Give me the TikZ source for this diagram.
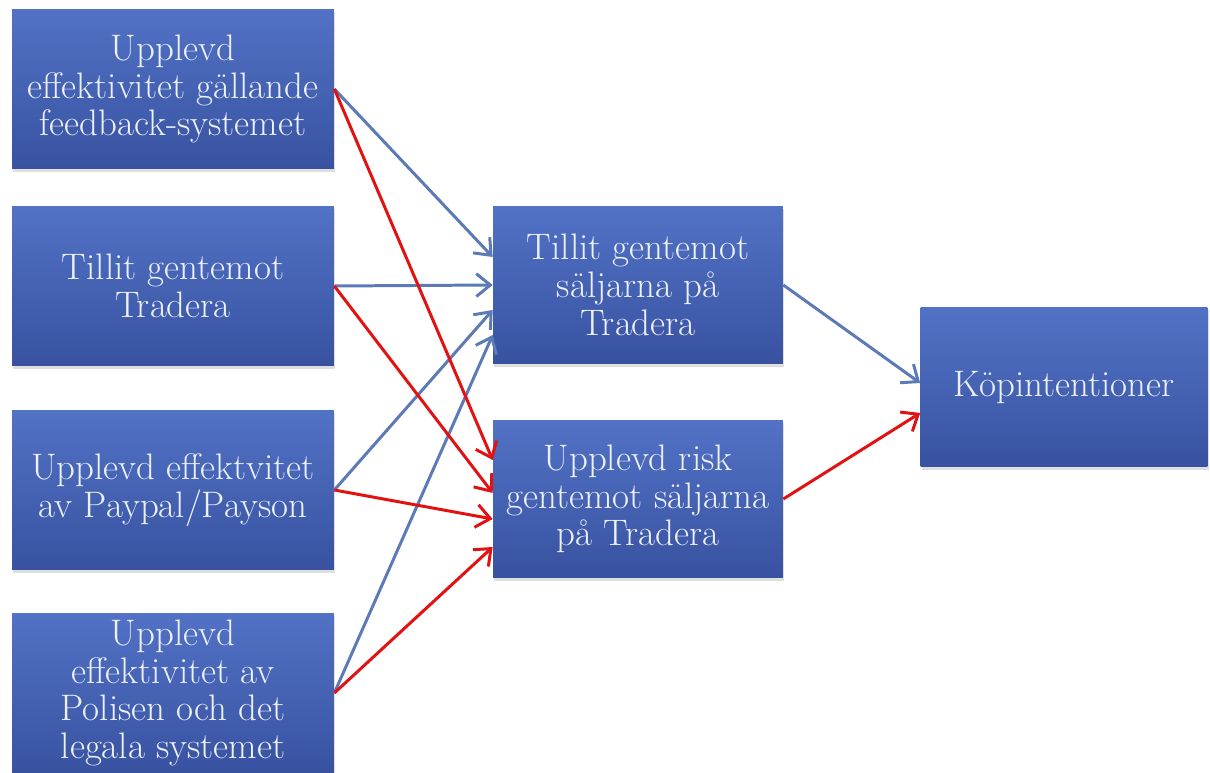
\documentclass[tikz,border=0pt]{standalone}
\usetikzlibrary{arrows.meta,shadows}

\definecolor{boxtop}{RGB}{82,114,198}
\definecolor{boxbot}{RGB}{56,82,160}
\definecolor{boxtext}{RGB}{236,240,250}
\definecolor{linkblue}{RGB}{92,122,182}
\definecolor{linkred}{RGB}{226,18,18}

\begin{document}
\begin{tikzpicture}[x=0.02cm,y=-0.02cm,
    box/.style={rectangle, top color=boxtop, bottom color=boxbot, text=boxtext,
        align=center, inner sep=0pt, font=\fontsize{21}{21.5}\selectfont,
        drop shadow={opacity=0.25, shadow xshift=0.6pt, shadow yshift=-1.6pt}},
    leftbox/.style={box, minimum width=6.44cm, minimum height=3.2cm},
    midbox/.style={box, minimum width=5.8cm, minimum height=3.15cm},
    bluelink/.style={draw=linkblue, line width=1.7pt, -{Straight Barb[length=8pt,width=13pt]}},
    redlink/.style={draw=linkred, line width=1.7pt, -{Straight Barb[length=8pt,width=13pt]}}]

            \useasboundingbox (0,0) rectangle (1210,773);

            \coordinate (f) at (173,89);
            \coordinate (t) at (173,286);
            \coordinate (p) at (173,490);
            \coordinate (l) at (173,693);
            \coordinate (s) at (638,285);
            \coordinate (r) at (638,499);
            \coordinate (k) at (1064,387);

            \node[leftbox] (feedback) at (f) {Upplevd\\effektivitet gällande\\feedback-systemet};
            \node[leftbox] (tradera) at (t) {Tillit gentemot\\Tradera};
            \node[leftbox] (paypal) at (p) {Upplevd effektvitet\\av Paypal/Payson};
            \node[leftbox] (polisen) at (l) {Upplevd\\effektivitet av\\Polisen och det\\legala systemet};

            \node[midbox] (saljtillit) at (s) {Tillit gentemot\\säljarna på\\Tradera};
            \node[midbox] (saljrisk) at (r) {Upplevd risk\\gentemot säljarna\\på Tradera};

            \node[box, minimum width=5.74cm, minimum height=3.2cm] (kop) at (k) {Köpintentioner};

            \draw[bluelink] (feedback.east) -- ([yshift=0.56cm]saljtillit.west);
            \draw[bluelink] (tradera.east) -- (saljtillit.west);
            \draw[bluelink] (paypal.east) -- ([yshift=-0.5cm]saljtillit.west);
            \draw[bluelink] (polisen.east) -- ([yshift=-1cm]saljtillit.west);

            \draw[redlink] (feedback.east) -- ([yshift=0.78cm]saljrisk.west);
            \draw[redlink] (tradera.east) -- ([yshift=0.12cm]saljrisk.west);
            \draw[redlink] (paypal.east) -- ([yshift=-0.4cm]saljrisk.west);
            \draw[redlink] (polisen.east) -- ([yshift=-0.96cm]saljrisk.west);

            \draw[bluelink] (saljtillit.east) -- ([yshift=0.08cm]kop.west);
            \draw[redlink] (saljrisk.east) -- ([yshift=-0.52cm]kop.west);
        \end{tikzpicture}
\end{document}
